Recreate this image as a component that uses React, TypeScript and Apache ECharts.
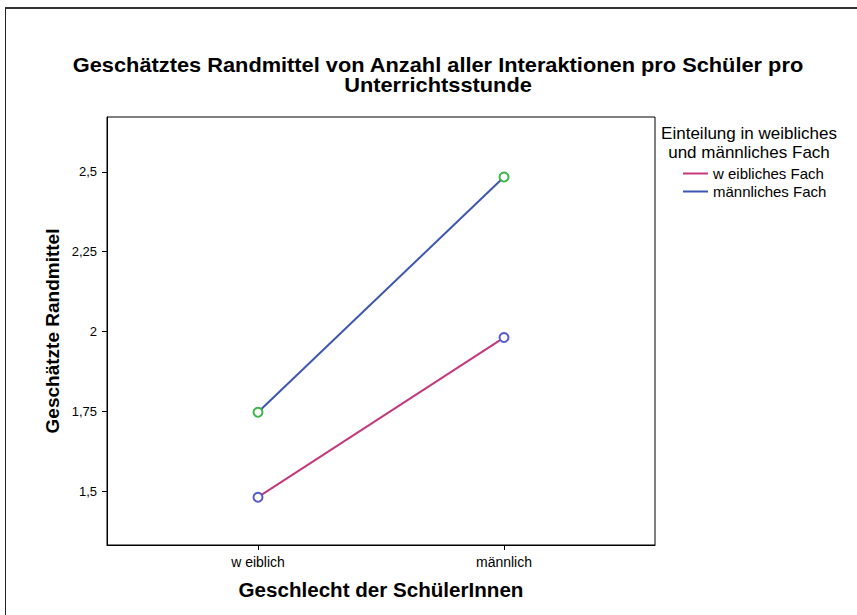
import React, { useEffect, useRef } from "react";
import * as echarts from "echarts";

const categories = ["w eiblich", "männlich"];
const seriesNames = ["w eibliches Fach", "männliches Fach"];
const weiblichesFach = [1.481, 1.981];
const maennlichesFach = [1.747, 2.484];
const yTicks = [1.5, 1.75, 2, 2.25, 2.5];

const FONT = "'Liberation Sans', Arial, sans-serif";
const PINK = "#c2397d";
const BLUE = "#3d57b0";
const GREEN = "#3cb84a";
const MARK_BLUE = "#5a5ad0";

export default function App() {
  const ref = useRef<HTMLDivElement>(null);
  useEffect(() => {
    document.body.style.margin = "0";
    const chart = echarts.init(ref.current!, null, { renderer: "svg" });
    const toPts = (arr: number[]) => arr.map((v, i) => [i, v]);
    chart.setOption({
      animation: false,
      backgroundColor: "#fff",
      grid: { left: 107, top: 117, width: 548, height: 428, show: true, borderColor: "#000", borderWidth: 1 },
      xAxis: {
        type: "value",
        min: -0.6138,
        max: 1.6138,
        splitLine: { show: false },
        axisLine: { show: true, onZero: false, lineStyle: { color: "#000" } },
        axisTick: { show: true, length: 5, customValues: [0, 1], lineStyle: { color: "#000" } },
        axisLabel: {
          customValues: [0, 1],
          formatter: (v: number) => categories[Math.round(v)] ?? "",
          fontFamily: FONT,
          fontSize: 14,
          color: "#000",
          margin: 10,
        },
      },
      yAxis: {
        type: "value",
        min: 1.33125,
        max: 2.671875,
        splitLine: { show: false },
        axisLine: { show: true, onZero: false, lineStyle: { color: "#000" } },
        axisTick: { show: true, length: 5, customValues: yTicks, lineStyle: { color: "#000" } },
        axisLabel: {
          customValues: yTicks,
          formatter: (v: number) => String(v).replace(".", ","),
          fontFamily: FONT,
          fontSize: 13,
          color: "#000",
          margin: 10,
        },
      },
      legend: {
        orient: "vertical",
        left: 683,
        top: 166,
        padding: 0,
        itemWidth: 25,
        itemHeight: 2,
        itemGap: 3,
        icon: "rect",
        textStyle: { fontFamily: FONT, fontSize: 15, color: "#000", lineHeight: 15 },
        data: [
          { name: seriesNames[0], itemStyle: { color: PINK } },
          { name: seriesNames[1], itemStyle: { color: BLUE } },
        ],
      },
      graphic: [
        {
          type: "text",
          x: 438,
          y: 75,
          scaleX: 1.09,
          style: {
            text: "Geschätztes Randmittel von Anzahl aller Interaktionen pro Schüler pro\nUnterrichtsstunde",
            align: "center",
            verticalAlign: "middle",
            fontFamily: FONT,
            fontSize: 20,
            fontWeight: "bold",
            lineHeight: 20,
            fill: "#000",
          },
        },
        {
          type: "text",
          x: 381,
          y: 590,
          scaleX: 1.056,
          style: {
            text: "Geschlecht der SchülerInnen",
            align: "center",
            verticalAlign: "middle",
            fontFamily: FONT,
            fontSize: 19.5,
            fontWeight: "bold",
            fill: "#000",
          },
        },
        {
          type: "text",
          x: 52,
          y: 331,
          rotation: Math.PI / 2,
          style: {
            text: "Geschätzte Randmittel",
            align: "center",
            verticalAlign: "middle",
            fontFamily: FONT,
            fontSize: 19,
            fontWeight: "bold",
            fill: "#000",
          },
        },
        {
          type: "text",
          x: 749,
          y: 142.5,
          style: {
            text: "Einteilung in weibliches\nund männliches Fach",
            align: "center",
            verticalAlign: "middle",
            fontFamily: FONT,
            fontSize: 17,
            lineHeight: 19,
            fill: "#000",
          },
        },
        { type: "line", shape: { x1: 5, y1: 8, x2: 857, y2: 8 }, style: { stroke: "#333", lineWidth: 2 } },
        { type: "line", shape: { x1: 5.5, y1: 8, x2: 5.5, y2: 615 }, style: { stroke: "#222", lineWidth: 1 } },
      ],
      series: [
        {
          name: seriesNames[0],
          type: "line",
          data: toPts(weiblichesFach),
          symbol: "emptyCircle",
          symbolSize: 9,
          lineStyle: { color: PINK, width: 2 },
          itemStyle: { color: MARK_BLUE, borderWidth: 1 },
        },
        {
          name: seriesNames[1],
          type: "line",
          data: toPts(maennlichesFach),
          symbol: "emptyCircle",
          symbolSize: 9,
          lineStyle: { color: BLUE, width: 2 },
          itemStyle: { color: GREEN, borderWidth: 1 },
        },
      ],
    });
    return () => chart.dispose();
  }, []);
  return <div ref={ref} style={{ width: 857, height: 615 }} />;
}
